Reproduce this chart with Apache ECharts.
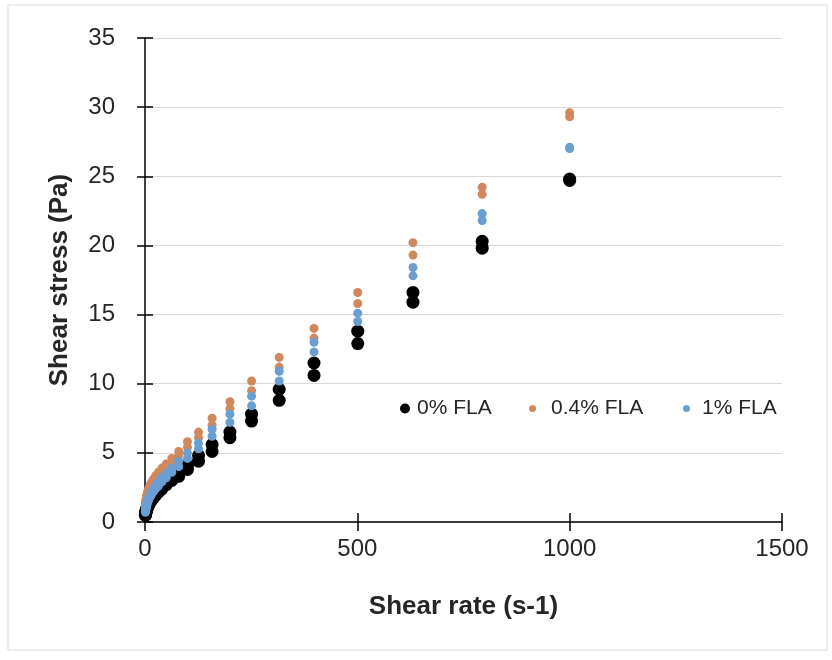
<!DOCTYPE html>
<html>
<head>
    <meta charset="utf-8">
    <title>Shear stress vs shear rate</title>
    <script src="https://cdn.jsdelivr.net/npm/echarts@6/dist/echarts.min.js"></script>
    <style>
        html, body { margin: 0; padding: 0; background: #ffffff; }
        #chart { width: 832px; height: 660px; }
    </style>
</head>
<body>
<div id="chart"></div>
<script>
    // shear rate (s-1), log spaced, 10 points per decade
    var shearRate = [1, 1.26, 1.58, 2, 2.51, 3.16, 3.98, 5.01, 6.31, 7.94,
        10, 12.6, 15.8, 20, 25.1, 31.6, 39.8, 50.1, 63.1, 79.4,
        100, 126, 158, 200, 251, 316, 398, 501, 631, 794, 1000];

    // shear stress (Pa), two sweeps per sample
    var fla0Up = [0.52, 0.58, 0.64, 0.71, 0.78, 0.86, 0.95, 1.05, 1.16, 1.28,
        1.4, 1.55, 1.7, 1.9, 2.1, 2.35, 2.6, 2.9, 3.2, 3.6,
        4.1, 4.8, 5.6, 6.5, 7.8, 9.6, 11.5, 13.8, 16.6, 20.3, 24.8];
    var fla0Down = [0.48, 0.53, 0.59, 0.65, 0.72, 0.8, 0.88, 0.97, 1.07, 1.18,
        1.3, 1.45, 1.6, 1.75, 1.95, 2.15, 2.4, 2.7, 3.0, 3.3,
        3.8, 4.4, 5.1, 6.1, 7.3, 8.8, 10.6, 12.9, 15.9, 19.8, 24.7];

    var fla04Up = [1.22, 1.32, 1.42, 1.53, 1.65, 1.78, 1.9, 2.05, 2.2, 2.35,
        2.5, 2.7, 2.9, 3.1, 3.35, 3.6, 3.9, 4.2, 4.6, 5.1,
        5.8, 6.5, 7.5, 8.7, 10.2, 11.9, 14.0, 16.6, 20.2, 24.2, 29.6];
    var fla04Down = [1.12, 1.22, 1.32, 1.42, 1.53, 1.65, 1.78, 1.9, 2.05, 2.2,
        2.35, 2.5, 2.7, 2.9, 3.1, 3.3, 3.6, 3.9, 4.3, 4.8,
        5.4, 6.1, 7.0, 8.2, 9.5, 11.2, 13.3, 15.8, 19.3, 23.7, 29.3];

    var fla1Up = [0.77, 0.84, 0.92, 1.0, 1.1, 1.2, 1.3, 1.42, 1.55, 1.7,
        1.85, 2.0, 2.2, 2.4, 2.6, 2.9, 3.2, 3.5, 3.9, 4.4,
        5.0, 5.7, 6.7, 7.8, 9.1, 10.9, 13.0, 15.1, 18.4, 22.3, 27.1];
    var fla1Down = [0.7, 0.77, 0.84, 0.92, 1.0, 1.1, 1.2, 1.3, 1.42, 1.55,
        1.7, 1.85, 2.0, 2.2, 2.4, 2.6, 2.9, 3.2, 3.6, 4.0,
        4.6, 5.3, 6.2, 7.2, 8.4, 10.2, 12.3, 14.5, 17.8, 21.8, 27.0];

    var seriesNames = ['0% FLA', '0.4% FLA', '1% FLA'];
    var xTicks = [0, 500, 1000, 1500];
    var yTicks = [0, 5, 10, 15, 20, 25, 30, 35];

    function pairs(up, down) {
        var out = [];
        shearRate.forEach(function (r, i) { out.push([r, up[i]]); });
        shearRate.forEach(function (r, i) { out.push([r, down[i]]); });
        return out;
    }

    var chart = echarts.init(document.getElementById('chart'));

    var labelFont = 'Liberation Sans, Arial, sans-serif';
    var gridBox = {left: 145, right: 50, top: 38, bottom: 138};
    var tickStyle = {color: '#000000', width: 1.5};

    var option = {
        animation: false,
        backgroundColor: '#ffffff',
        graphic: [{
            type: 'rect',
            shape: {x: 8, y: 5, width: 819, height: 645},
            style: {fill: 'none', stroke: '#d9d9d9', lineWidth: 1},
            silent: true
        }],
        // grid 0 carries the data, grid 1 only adds the inner half of the crossing ticks
        grid: [
            Object.assign({}, gridBox),
            Object.assign({}, gridBox)
        ],
        legend: [
            {
                data: [seriesNames[0]], left: 395, top: 393,
                icon: 'circle', itemWidth: 10, itemHeight: 10,
                textStyle: {fontSize: 21, color: '#262626', fontFamily: labelFont, padding: [0, 0, 0, 2]}
            },
            {
                data: [seriesNames[1]], left: 524, top: 393,
                icon: 'circle', itemWidth: 7, itemHeight: 7,
                textStyle: {fontSize: 21, color: '#262626', fontFamily: labelFont, padding: [0, 0, 0, 10]}
            },
            {
                data: [seriesNames[2]], left: 678, top: 393,
                icon: 'circle', itemWidth: 7, itemHeight: 7,
                textStyle: {fontSize: 21, color: '#262626', fontFamily: labelFont, padding: [0, 0, 0, 7]}
            }
        ],
        xAxis: [
            {
                gridIndex: 0, type: 'value',
                min: xTicks[0], max: xTicks[xTicks.length - 1], interval: 500,
                name: 'Shear rate (s-1)', nameLocation: 'middle', nameGap: 72,
                nameTextStyle: {fontSize: 26, fontWeight: 'bold', color: '#262626', fontFamily: labelFont},
                axisLine: {lineStyle: {color: '#000000', width: 1.5}},
                axisTick: {inside: false, length: 9, lineStyle: tickStyle},
                axisLabel: {
                    margin: 15, fontSize: 24, color: '#262626', fontFamily: labelFont,
                    formatter: function (v) { return String(v); }
                },
                splitLine: {show: false}
            },
            {
                gridIndex: 1, type: 'value',
                min: xTicks[0], max: xTicks[xTicks.length - 1], interval: 500,
                axisLine: {show: false},
                axisTick: {inside: true, length: 9, lineStyle: tickStyle},
                axisLabel: {show: false},
                splitLine: {show: false}
            }
        ],
        yAxis: [
            {
                gridIndex: 0, type: 'value',
                min: yTicks[0], max: yTicks[yTicks.length - 1], interval: 5,
                name: 'Shear stress (Pa)', nameLocation: 'middle', nameGap: 72,
                nameTextStyle: {fontSize: 26, fontWeight: 'bold', color: '#262626', fontFamily: labelFont},
                axisLine: {show: true, lineStyle: {color: '#000000', width: 1.5}},
                axisTick: {show: true, inside: false, length: 8, lineStyle: tickStyle},
                axisLabel: {margin: 30, fontSize: 24, color: '#262626', fontFamily: labelFont},
                splitLine: {show: true, lineStyle: {color: '#d9d9d9', width: 1.2}}
            },
            {
                gridIndex: 1, type: 'value',
                min: yTicks[0], max: yTicks[yTicks.length - 1], interval: 5,
                axisLine: {show: false},
                axisTick: {show: true, inside: true, length: 8, lineStyle: tickStyle},
                axisLabel: {show: false},
                splitLine: {show: false}
            }
        ],
        series: [
            {
                name: seriesNames[0], type: 'scatter', symbol: 'circle', symbolSize: 13,
                xAxisIndex: 0, yAxisIndex: 0,
                itemStyle: {color: '#000000', opacity: 1},
                data: pairs(fla0Up, fla0Down)
            },
            {
                name: seriesNames[1], type: 'scatter', symbol: 'circle', symbolSize: 9,
                xAxisIndex: 0, yAxisIndex: 0,
                itemStyle: {color: '#d0885c', opacity: 1},
                data: pairs(fla04Up, fla04Down)
            },
            {
                name: seriesNames[2], type: 'scatter', symbol: 'circle', symbolSize: 9,
                xAxisIndex: 0, yAxisIndex: 0,
                itemStyle: {color: '#6a9fd4', opacity: 1},
                data: pairs(fla1Up, fla1Down)
            }
        ]
    };

    chart.setOption(option);
</script>
</body>
</html>
